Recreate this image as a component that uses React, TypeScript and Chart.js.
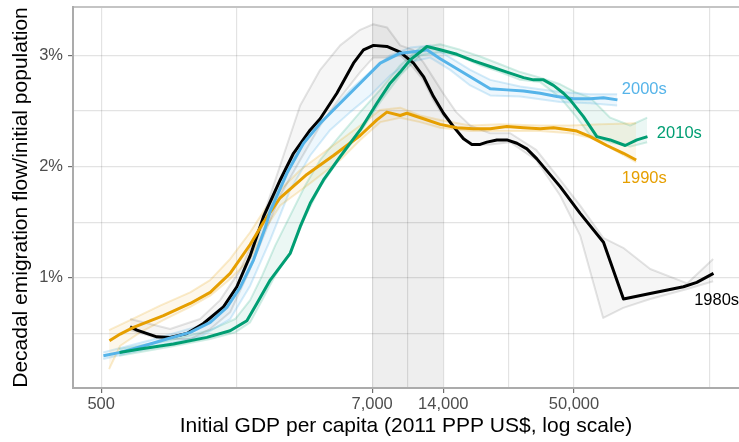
import React, { useEffect, useRef } from 'react';
import { Chart, registerables } from 'chart.js';

Chart.register(...registerables);

type Pt = [number, number]; // [GDP per capita, emigration %]

const decades = ['1980s', '1990s', '2000s', '2010s'];

// main smoothed curves
const line1980s: Pt[] = [
  [663, 0.56], [708, 0.53], [860, 0.47], [979, 0.465], [1152, 0.5], [1354, 0.59], [1646, 0.74],
  [1875, 0.92], [2135, 1.2], [2430, 1.55], [2859, 1.88], [3255, 2.12], [3830, 2.33], [4221, 2.43],
  [4966, 2.66], [5838, 2.93], [6435, 3.05], [7095, 3.09], [8083, 3.08], [9200, 3.03], [10474, 2.93],
  [11544, 2.81], [12728, 2.63], [14028, 2.48], [15465, 2.36], [17046, 2.25], [18502, 2.2], [20054, 2.2],
  [21410, 2.22], [23602, 2.24], [26016, 2.24], [28676, 2.21], [31614, 2.16], [34841, 2.07], [43715, 1.82],
  [53107, 1.58], [66650, 1.32], [80988, 0.81], [105020, 0.86], [145300, 0.92], [165500, 0.96], [194600, 1.04],
];
const line1990s: Pt[] = [
  [542, 0.435], [602, 0.495], [685, 0.555], [917, 0.66], [1190, 0.77], [1446, 0.87], [1756, 1.04],
  [2135, 1.3], [2430, 1.5], [2859, 1.72], [3708, 1.93], [4806, 2.1], [6231, 2.28], [7333, 2.42],
  [8083, 2.49], [9200, 2.46], [9820, 2.48], [11544, 2.43], [13583, 2.38], [15985, 2.35], [18795, 2.34],
  [22107, 2.34], [26016, 2.36], [30583, 2.35], [35975, 2.34], [40958, 2.35], [48179, 2.33], [51435, 2.32],
  [58547, 2.27], [68896, 2.19], [80988, 2.12], [91650, 2.06],
];
const line2000s: Pt[] = [
  [511, 0.3], [602, 0.33], [806, 0.405], [948, 0.45], [1190, 0.51], [1446, 0.6], [1701, 0.735],
  [1936, 0.915], [2204, 1.16], [2470, 1.45], [2594, 1.6], [3052, 1.94], [3588, 2.21], [4221, 2.39],
  [5129, 2.57], [6231, 2.75], [7573, 2.93], [9200, 3.02], [11178, 3.04], [11933, 3.05], [13583, 2.97],
  [15985, 2.88], [18795, 2.79], [22107, 2.7], [26016, 2.69], [30583, 2.68], [35975, 2.66], [42338, 2.63],
  [49757, 2.61], [58547, 2.61], [66650, 2.62], [76384, 2.6],
];
const line2010s: Pt[] = [
  [598, 0.33], [731, 0.36], [1011, 0.405], [1400, 0.465], [1756, 0.525], [2067, 0.615], [2278, 0.77],
  [2594, 0.98], [3152, 1.22], [3474, 1.46], [3830, 1.67], [4359, 1.88], [5129, 2.09], [6231, 2.33],
  [7333, 2.57], [8348, 2.75], [9200, 2.85], [10141, 2.96], [11178, 3.03], [11933, 3.08], [13583, 3.05],
  [15985, 3.01], [18795, 2.95], [22107, 2.9], [26016, 2.85], [30583, 2.8], [33706, 2.78], [37154, 2.78],
  [40958, 2.73], [45147, 2.66], [48179, 2.6], [54847, 2.45], [62492, 2.27], [71137, 2.24], [82342, 2.19],
  [92285, 2.24], [102306, 2.27],
];

// faint spread of the alternative curves (upper / lower edge)
const band1980sHigh: Pt[] = [
  [663, 0.63], [979, 0.54], [1311, 0.63], [1593, 0.8], [1936, 1.07], [2352, 1.47], [2858, 2.01],
  [3474, 2.55], [4221, 2.87], [5128, 3.09], [6232, 3.23], [7074, 3.28], [8105, 3.25], [9201, 3.09],
  [10444, 3.05], [11512, 2.94], [12691, 2.8], [13985, 2.66], [15874, 2.49], [18193, 2.37], [22109, 2.3],
  [26867, 2.3], [34613, 2.15], [43711, 1.88], [53112, 1.65], [66457, 1.36], [80742, 1.27], [105038, 1.08],
  [150607, 0.95], [193996, 1.17],
];
const band1980sLow: Pt[] = [
  [663, 0.53], [888, 0.45], [1190, 0.45], [1445, 0.54], [1756, 0.69], [2134, 1.08], [2470, 1.41],
  [2858, 1.74], [3474, 2.06], [4221, 2.37], [5128, 2.62], [6232, 2.85], [7074, 2.98], [8105, 2.98],
  [9201, 3.0], [10444, 2.89], [11512, 2.78], [12691, 2.6], [13985, 2.46], [15874, 2.33], [18193, 2.2],
  [22109, 2.2], [26867, 2.22], [34613, 2.06], [43711, 1.74], [53112, 1.38], [66457, 0.64], [80742, 0.73],
  [105038, 0.81], [150607, 0.9], [193996, 0.97],
];
const band1990sHigh: Pt[] = [
  [540, 0.53], [663, 0.62], [888, 0.75], [1190, 0.87], [1445, 0.98], [1756, 1.17], [2134, 1.41],
  [2470, 1.62], [2858, 1.79], [3474, 1.97], [4653, 2.17], [6232, 2.37], [7570, 2.51], [9201, 2.53],
  [11181, 2.46], [13582, 2.42], [18193, 2.37], [24372, 2.38], [35989, 2.37], [48186, 2.37], [64546, 2.38],
  [91669, 2.39],
];
const band1990sLow: Pt[] = [
  [540, 0.18], [602, 0.39], [731, 0.51], [933, 0.63], [1190, 0.74], [1445, 0.84], [1756, 0.99],
  [2134, 1.17], [2470, 1.44], [2858, 1.65], [3829, 1.85], [5128, 2.06], [6232, 2.24], [7570, 2.4],
  [9201, 2.44], [11181, 2.4], [13582, 2.35], [18193, 2.32], [24372, 2.32], [35989, 2.32], [48186, 2.3],
  [58548, 2.26], [71133, 2.17], [91669, 2.04],
];
const band2000sHigh: Pt[] = [
  [510, 0.33], [806, 0.44], [1311, 0.57], [1756, 0.8], [2134, 1.2], [2593, 1.65], [3151, 2.04],
  [3829, 2.28], [4653, 2.49], [5653, 2.69], [6870, 2.85], [8346, 3.0], [10143, 3.07], [12326, 3.09],
  [14973, 2.98], [18193, 2.87], [22109, 2.78], [29617, 2.72], [43711, 2.67], [58548, 2.65], [76145, 2.65],
];
const band2000sLow: Pt[] = [
  [510, 0.27], [806, 0.37], [1311, 0.47], [1756, 0.63], [2134, 0.93], [2593, 1.34], [3151, 1.79],
  [3829, 2.1], [4653, 2.33], [5653, 2.49], [6870, 2.64], [8346, 2.82], [10143, 2.94], [12326, 2.98],
  [14973, 2.87], [18193, 2.73], [22109, 2.64], [29617, 2.63], [43711, 2.58], [58548, 2.57], [76145, 2.55],
];
const band2010sHigh: Pt[] = [
  [596, 0.36], [979, 0.44], [1445, 0.53], [1844, 0.63], [2134, 0.8], [2399, 1.02], [2723, 1.29],
  [3151, 1.56], [3647, 1.83], [4221, 2.06], [5128, 2.28], [6232, 2.49], [7570, 2.69], [9201, 2.91],
  [11181, 3.07], [13582, 3.1], [16505, 3.05], [20056, 2.99], [24372, 2.92], [29617, 2.85], [35989, 2.8],
  [43711, 2.74], [50588, 2.67], [58548, 2.62], [71133, 2.44], [86434, 2.37], [102018, 2.44],
];
const band2010sLow: Pt[] = [
  [596, 0.3], [979, 0.38], [1445, 0.45], [1844, 0.51], [2134, 0.6], [2399, 0.8], [2723, 1.02],
  [3151, 1.23], [3647, 1.55], [4221, 1.82], [5128, 2.08], [6232, 2.31], [7570, 2.58], [9201, 2.82],
  [11181, 3.0], [13582, 3.03], [16505, 2.99], [20056, 2.91], [24372, 2.85], [29617, 2.78], [35989, 2.76],
  [43711, 2.62], [50588, 2.46], [58548, 2.28], [71133, 2.22], [86434, 2.18], [102018, 2.22],
];

const xMajorTicks = [500, 7000, 14000, 50000];
const xMinorTicks = [1871, 9899, 26458, 188000];
const yMajorTicks = [1, 2, 3];
const yMinorTicks = [0.5, 1.5, 2.5];
const highlightRange = [7000, 14000];
// where the decade names sit (left edge of the text)
const labelAt: Pt[] = [[161200, 0.8], [79700, 1.89], [79700, 2.69], [112100, 2.3]];

const FONT = "'Liberation Sans', Arial, Helvetica, sans-serif";
const lineColors = ['#000000', '#E69F00', '#56B4E9', '#009E73'];
const bandLine = ['rgba(0,0,0,0.11)', 'rgba(230,159,0,0.2)', 'rgba(86,180,233,0.25)', 'rgba(0,158,115,0.18)'];
const bandFill = ['rgba(0,0,0,0.035)', 'rgba(230,159,0,0.08)', 'rgba(86,180,233,0.1)', 'rgba(0,158,115,0.08)'];

const toXY = (pts: Pt[]) => pts.map(([x, y]) => ({ x, y }));

const extrasPlugin = {
  id: 'extras',
  beforeDraw(chart: any) {
    const { ctx, chartArea, scales } = chart;
    const x0 = scales.x.getPixelForValue(highlightRange[0]);
    const x1 = scales.x.getPixelForValue(highlightRange[1]);
    ctx.save();
    ctx.fillStyle = '#EEEEEE';
    ctx.fillRect(x0, chartArea.top, x1 - x0, chartArea.bottom - chartArea.top);
    ctx.restore();
  },
  afterDatasetsDraw(chart: any) {
    const { ctx, scales } = chart;
    ctx.save();
    ctx.font = `16.5px ${FONT}`;
    ctx.textAlign = 'left';
    ctx.textBaseline = 'middle';
    decades.forEach((d, i) => {
      ctx.fillStyle = lineColors[i];
      ctx.fillText(d, scales.x.getPixelForValue(labelAt[i][0]), scales.y.getPixelForValue(labelAt[i][1]));
    });
    ctx.restore();
  },
};

const noPadding = (axis: any) => {
  axis.paddingTop = 0;
  axis.paddingBottom = 0;
  axis.paddingLeft = 0;
  axis.paddingRight = 0;
};

const App: React.FC = () => {
  const canvasRef = useRef<HTMLCanvasElement | null>(null);

  useEffect(() => {
    document.body.style.margin = '0';
    if (!canvasRef.current) return;
    const ctx = canvasRef.current.getContext('2d');
    if (!ctx) return;

    const mains = [line1980s, line1990s, line2000s, line2010s];
    const bands = [
      [band1980sHigh, band1980sLow],
      [band1990sHigh, band1990sLow],
      [band2000sHigh, band2000sLow],
      [band2010sHigh, band2010sLow],
    ];

    const datasets: any[] = [];
    bands.forEach(([hi, lo], i) => {
      datasets.push({
        label: decades[i] + ' high',
        data: toXY(hi),
        borderColor: bandLine[i],
        backgroundColor: bandFill[i],
        borderWidth: 2,
        fill: '+1',
        order: 10,
      });
      datasets.push({
        label: decades[i] + ' low',
        data: toXY(lo),
        borderColor: bandLine[i],
        borderWidth: 2,
        fill: false,
        order: 10,
      });
    });
    mains.forEach((pts, i) => {
      datasets.push({
        label: decades[i],
        data: toXY(pts),
        borderColor: lineColors[i],
        borderWidth: 3,
        fill: false,
        order: 4 - i,
      });
    });

    const tickFont = { family: FONT, size: 16.5 };
    const titleFont = { family: FONT, size: 21 };
    const gridColor = 'rgba(0,0,0,0.11)';

    const chart = new Chart(ctx, {
      type: 'line',
      data: { datasets },
      plugins: [extrasPlugin],
      options: {
        animation: false,
        responsive: true,
        maintainAspectRatio: false,
        layout: { padding: 0 },
        elements: { point: { radius: 0 }, line: { tension: 0, borderJoinStyle: 'round', borderCapStyle: 'butt' } },
        plugins: { legend: { display: false }, tooltip: { enabled: false } },
        scales: {
          x: {
            type: 'logarithmic',
            min: 380,
            max: 249500,
            afterBuildTicks: (axis: any) => {
              axis.ticks = [...xMajorTicks, ...xMinorTicks].sort((a, b) => a - b).map((v) => ({ value: v }));
            },
            afterFit: (axis: any) => { axis.height = 54; noPadding(axis); },
            ticks: {
              autoSkip: false,
              maxRotation: 0,
              padding: 2,
              color: '#4D4D4D',
              font: tickFont,
              callback: (v: any) => (xMajorTicks.includes(Number(v)) ? Number(v).toLocaleString('en-US') : ''),
            },
            grid: {
              color: gridColor,
              lineWidth: 1.2,
              tickLength: 5,
              tickColor: (c: any) => (xMajorTicks.includes(c.tick?.value) ? '#6E6E6E' : 'rgba(0,0,0,0)'),
            },
            border: { color: '#ABABAB', width: 2 },
            title: {
              display: true,
              text: 'Initial GDP per capita (2011 PPP US$, log scale)',
              color: '#000000',
              font: titleFont,
              padding: { top: 0, bottom: 3 },
            },
          },
          xTop: {
            type: 'linear',
            position: 'top',
            min: 0,
            max: 1,
            afterFit: (axis: any) => { axis.height = 7; noPadding(axis); },
            ticks: { display: false },
            grid: { display: false, drawTicks: false },
            border: { color: '#C4C4C4', width: 2 },
          },
          y: {
            type: 'linear',
            min: 0.01,
            max: 3.435,
            afterBuildTicks: (axis: any) => {
              axis.ticks = [...yMinorTicks, ...yMajorTicks].sort((a, b) => a - b).map((v) => ({ value: v }));
            },
            afterFit: (axis: any) => { axis.width = 73; noPadding(axis); },
            ticks: {
              padding: 5,
              color: '#4D4D4D',
              font: tickFont,
              callback: (v: any) => (yMajorTicks.includes(Number(v)) ? `${v}%` : ''),
            },
            grid: {
              color: gridColor,
              lineWidth: 1.2,
              tickLength: 5,
              tickColor: (c: any) => (yMajorTicks.includes(c.tick?.value) ? '#6E6E6E' : 'rgba(0,0,0,0)'),
            },
            border: { color: '#ABABAB', width: 2 },
            title: {
              display: true,
              text: 'Decadal emigration flow/initial population',
              color: '#000000',
              font: titleFont,
              padding: { top: 9, bottom: 0 },
            },
          },
        },
      },
    });

    return () => {
      chart.destroy();
    };
  }, []);

  return (
    <div style={{ width: 739, height: 442, position: 'relative' }}>
      <canvas ref={canvasRef} />
    </div>
  );
};

export default App;
